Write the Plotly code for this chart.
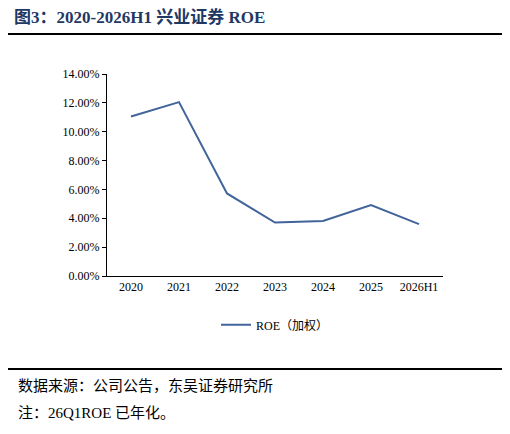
import plotly.graph_objects as go

years = ["2020", "2021", "2022", "2023", "2024", "2025", "2026H1"]
roe = [0.1105, 0.1205, 0.0572, 0.0370, 0.0381, 0.0492, 0.0360]
yticks = [0, 0.02, 0.04, 0.06, 0.08, 0.10, 0.12, 0.14]
ytick_text = [f"{v*100:.2f}%" for v in yticks]

serif = "Liberation Serif, Noto Sans CJK SC"
fig = go.Figure()
fig.add_trace(go.Scatter(x=years, y=roe, mode="lines", name="ROE（加权）",
                         line=dict(color="#41649A", width=2)))
fig.update_layout(
    width=510, height=434, margin=dict(l=99, r=75, t=66, b=166),
    plot_bgcolor="white", paper_bgcolor="white",
    font=dict(family=serif, size=12, color="black"),
    showlegend=True,
    legend=dict(orientation="h", x=0.5, xanchor="center", y=-0.17, yanchor="top",
                font=dict(family=serif, size=12)),
    xaxis=dict(type="category", range=[-0.5, 6.5], showline=True, linecolor="black",
               ticks="", showgrid=False, tickfont=dict(family=serif, size=12)),
    yaxis=dict(range=[0, 0.14], tickvals=yticks, ticktext=ytick_text, showline=True,
               linecolor="black", ticks="outside", ticklen=4, tickcolor="black",
               showgrid=False, tickfont=dict(family=serif, size=12)),
)
fig.add_annotation(xref="paper", yref="paper", x=(12-107)/336, xanchor="left",
                   y=(276-17)/202, yanchor="middle", showarrow=False,
                   text="<b>图3：2020-2026H1 兴业证券 ROE</b>",
                   font=dict(family=serif, size=17, color="#1F3864"))
fig.add_shape(type="line", xref="paper", yref="paper", x0=(5-107)/336, x1=(505-107)/336,
              y0=(276-34)/202, y1=(276-34)/202, line=dict(color="black", width=2))
fig.add_shape(type="line", xref="paper", yref="paper", x0=(5-107)/336, x1=(505-107)/336,
              y0=(276-369)/202, y1=(276-369)/202, line=dict(color="black", width=2))
fig.add_annotation(xref="paper", yref="paper", x=(16-107)/336, xanchor="left",
                   y=(276-386)/202, yanchor="middle", showarrow=False,
                   text="数据来源：公司公告，东吴证券研究所", font=dict(family=serif, size=15))
fig.add_annotation(xref="paper", yref="paper", x=(16-107)/336, xanchor="left",
                   y=(276-413)/202, yanchor="middle", showarrow=False,
                   text="注：26Q1ROE 已年化。", font=dict(family=serif, size=15))
fig.write_html("out.html")
